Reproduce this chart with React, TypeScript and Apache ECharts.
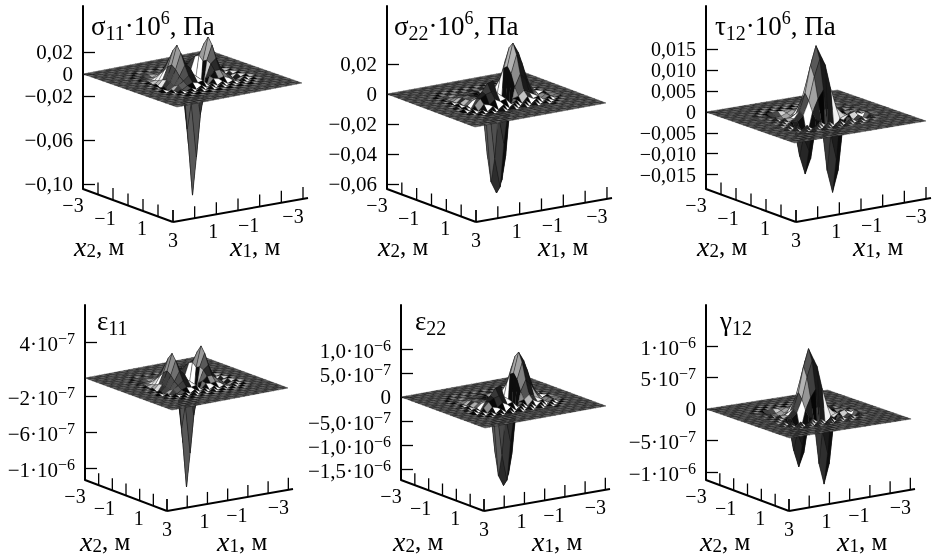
import React, { useEffect, useRef } from "react";
import * as echarts from "echarts";

// Height tables. Rows: x2 nodes, columns: x1 nodes of the central zone.
const shape11 = [
  [0,0,0,0.3,0,0.3,0,0.3,0,0.3,0,0.3,0,0.3,0,0,0],
  [0,0,0.4,-0.4,0.4,-0.4,0.4,-0.4,0.4,-0.4,0.4,-0.4,0.4,-0.4,0.4,0,0],
  [0,0.4,-0.5,-1,-0.5,-1,-0.5,-1,-0.5,-1,-0.5,-1,-0.5,-1,-0.5,0.4,0],
  [0.3,-0.4,-1,-2,-2,0,1,0,-1,0,1,0,-2,-2,-1,-0.4,0.3],
  [0,0.4,-1,-2,0,4,6,3,-3,3,6,4,0,-2,-1,0.4,0],
  [0.4,-0.4,-2,-1,4,10,12,6,-6,6,12,10,4,-1,-2,-0.4,0.4],
  [0,0.5,-3,0,8,18,16,2,-22,2,16,18,8,0,-3,0.5,0],
  [0.5,-1,-3,2,13,27,18,-15,-62,-15,18,28,13,2,-3,-1,0.5],
  [0,1,-4,3,16,33,14,-45,-106,-45,14,35,16,3,-4,1,0],
  [1,-1,-3,2,13,27,16,-20,-70,-20,16,29,13,2,-3,-1,1],
  [0,1,-3,0,8,17,14,2,-30,2,14,18,8,0,-3,1,0],
  [1,-1,-3,2,5,9,9,5,-10,5,9,9,5,2,-3,-1,1],
  [-1,1,-2,-1,2,4,3,4,-1,4,3,4,2,-1,-2,1,-1],
  [0.5,-1,1,-1,1,-1,2,-1,2,-1,2,-1,1,-1,1,-1,0.5],
  [-0.4,0.5,-1,1,-1,2,-1,2,-1,2,-1,1,-1,1,-1,0.5,-0.4],
  [0.3,-0.4,0.5,-0.5,0.5,-0.5,0.5,-0.5,0.5,-0.5,0.5,-0.5,0.5,-0.5,0.5,-0.4,0],
  [0,0.3,-0.3,0.3,-0.3,0.3,-0.3,0.3,-0.3,0.3,-0.3,0.3,-0.3,0.3,-0.3,0,0],
];
const shape22 = [
  [0,0,0,0.2,0,0.2,0,0.2,0,0.2,0,0.2,0,0.2,0,0,0],
  [0,0,0.3,-0.3,0.3,-0.3,0.3,-0.3,0.3,-0.3,0.3,-0.3,0.3,-0.3,0.3,0,0],
  [0,0.3,-0.5,-0.5,-0.5,-0.5,-0.5,-0.5,-0.5,-0.5,-0.5,-0.5,-0.5,-0.5,-0.5,0.3,0],
  [0.3,-0.4,-1,-1,0,0,1,1,0,1,1,1,0,-1,-1,-0.4,0.3],
  [0,0.4,-1,0,1,0,1,1,-1,1,2,4,3,1,-1,0.4,0],
  [0.4,-0.4,-1,1,2,1,1,0,-5,-1,5,11,8,4,-1,-0.4,0.4],
  [0,0.5,-1,2,3,2,1,-8,-24,-8,10,22,16,8,1,0.5,0],
  [0.5,-1,0,2,3,2,-2,-38,-55,-38,18,31,24,10,2,-1,0.5],
  [0,1,-1,2,3,3,-8,-55,-63,-55,20,35,28,14,5,1,0],
  [1,-1,0,3,5,7,-3,-38,-58,-38,16,28,22,10,2,-1,1],
  [0,1,-1,5,9,14,15,-8,-28,-10,8,16,12,5,0,1,0],
  [1,-1,2,6,8,9,8,5,-8,2,3,6,4,2,-1,1,-1],
  [-1,1,-1,3,2,5,3,4,0,2,-1,3,1,2,-1,1,-1],
  [0.5,-1,1,-1,2,-1,2,-1,2,-1,2,-1,2,-1,1,-1,0.5],
  [-0.4,0.5,-1,1,-1,2,-1,2,-1,2,-1,2,-1,1,-1,0.5,0],
  [0.3,-0.4,0.5,-0.5,0.5,-0.5,0.5,-0.5,0.5,-0.5,0.5,-0.5,0.5,-0.5,0.5,0,0],
  [0,0,0.3,-0.3,0.3,-0.3,0.3,-0.3,0.3,-0.3,0.3,-0.3,0.3,0,0,0,0],
];
const shape12 = [
  [0,0,0,1,-1,1,-1,1,-1,1,-1,1,-1,1,0,0,0],
  [0,0,1,-1,1,-1,1,-1,1,-1,1,-1,1,-1,1,0,0],
  [0,1,-1,1,-1,1,-1,1,-1,1,-1,1,-1,1,-1,1,0],
  [0,-1,1,-6,-10,-8,-3,3,2,3,2,-3,-6,-4,1,-1,0],
  [1,-1,1,-10,-18,-16,-6,3,8,6,3,-3,-4,-3,1,-1,1],
  [-1,1,-1,-6,-14,-14,0,14,28,18,8,3,2,1,-1,1,-1],
  [1,-1,2,-3,-5,2,20,45,75,55,25,8,3,2,2,-1,1],
  [-1,1,-2,3,2,10,40,85,135,105,55,15,4,2,-2,1,-1],
  [1,-1,2,-3,3,20,60,125,170,140,75,25,6,3,2,-1,1],
  [-1,2,-3,3,0,12,45,100,140,125,65,18,3,-4,-3,2,-1],
  [1,-2,3,-20,-70,-35,20,50,70,-60,-40,-5,0,6,3,-2,1],
  [-2,3,-5,-75,-120,-85,6,-4,-120,-175,-125,-6,6,10,-22,6,-2],
  [2,-4,5,-25,-60,-25,5,-5,-30,-90,-35,5,-5,5,-10,3,-2],
  [-2,3,-4,5,-5,5,-5,5,-5,5,-5,5,-4,4,-3,2,-1],
  [1,-2,3,-4,5,-5,5,-5,5,-5,5,-4,4,-3,2,-1,0],
  [-1,1,-2,2,-2,2,-2,2,-2,2,-2,2,-2,1,-1,1,0],
  [0,-1,1,-1,1,-1,1,-1,1,-1,1,-1,1,-1,0,0,0],
];

const ticks11 = [0.02, 0, -0.02, -0.06, -0.1];
const labels11 = ["0,02", "0", "−0,02", "−0,06", "−0,10"];
const ticks22 = [0.02, 0, -0.02, -0.04, -0.06];
const labels22 = ["0,02", "0", "−0,02", "−0,04", "−0,06"];
const ticks12 = [0.015, 0.01, 0.005, 0, -0.005, -0.01, -0.015];
const labels12 = ["0,015", "0,010", "0,005", "0", "−0,005", "−0,010", "−0,015"];
const ticksE11 = [4e-7, -2e-7, -6e-7, -1e-6];
const labelsE11 = ["{n|4·10}{p|−7}", "{n|−2·10}{p|−7}", "{n|−6·10}{p|−7}", "{n|−1·10}{p|−6}"];
const ticksE22 = [1e-6, 5e-7, 0, -5e-7, -1e-6, -1.5e-6];
const labelsE22 = ["{n|1,0·10}{p|−6}", "{n|5,0·10}{p|−7}", "0", "{n|−5,0·10}{p|−7}", "{n|−1,0·10}{p|−6}", "{n|−1,5·10}{p|−6}"];
const ticksG12 = [1e-6, 5e-7, 0, -5e-7, -1e-6];
const labelsG12 = ["{n|1·10}{p|−6}", "{n|5·10}{p|−7}", "0", "{n|−5·10}{p|−7}", "{n|−1·10}{p|−6}"];

const floorTicks = [-3, -2, -1, 0, 1, 2, 3];
const floorLabelsX2 = [-3, -1, 1, 3];
const floorLabelsX1 = [1, -1, -3];

const SERIF = "Liberation Serif";
const NODES = 24;
const ZONE_START = 4;

const panels = [
  { title: "{g|σ}{s|11}{g|·10}{p|6}{g|, Па}", tx: 91, ty: 9, shape: shape11, unit: 1e-3, ticks: ticks11, labels: labels11,
    axisX: 83, top: 6, bottom: 189, zeroY: 74, perValue: 1100, nx: [74, 230], fs: 21,
    L: [83, 74], F: [177, 107], R: [302, 83], fF: [173, 222], fR: [308, 198] },
  { title: "{g|σ}{s|22}{g|·10}{p|6}{g|, Па}", tx: 394, ty: 9, shape: shape22, unit: 1e-3, ticks: ticks22, labels: labels22,
    axisX: 387, top: 6, bottom: 189, zeroY: 94, perValue: 1500, nx: [378, 538], fs: 21,
    L: [387, 94], F: [475, 127], R: [606, 103], fF: [476, 222], fR: [612, 198] },
  { title: "{g|τ}{s|12}{g|·10}{p|6}{g|, Па}", tx: 715, ty: 9, shape: shape12, unit: 1e-4, ticks: ticks12, labels: labels12,
    axisX: 706, top: 6, bottom: 189, zeroY: 112, perValue: 4167, nx: [697, 853], fs: 20,
    L: [706, 112], F: [795, 143], R: [927, 121], fF: [796, 222], fR: [931, 198] },
  { title: "{g|ε}{s|11}", tx: 97, ty: 304, shape: shape11, unit: 1.09e-8, ticks: ticksE11, labels: labelsE11,
    axisX: 85, top: 305, bottom: 480, zeroY: 378, perValue: 9e7, nx: [80, 217], fs: 21,
    L: [85, 378], F: [172, 410], R: [288, 388], fF: [167, 511], fR: [293, 489] },
  { title: "{g|ε}{s|22}", tx: 415, ty: 304, shape: shape22, unit: 2.78e-8, ticks: ticksE22, labels: labelsE22,
    axisX: 401, top: 305, bottom: 480, zeroY: 397, perValue: 4.8e7, nx: [393, 532], fs: 21,
    L: [401, 397], F: [485, 428], R: [606, 406], fF: [484, 511], fR: [610, 489] },
  { title: "{g|γ}{s|12}", tx: 720, ty: 304, shape: shape12, unit: 6.1e-9, ticks: ticksG12, labels: labelsG12,
    axisX: 706, top: 305, bottom: 480, zeroY: 409, perValue: 6.3e7, nx: [700, 837], fs: 21,
    L: [706, 409], F: [790, 438], R: [912, 419], fF: [789, 511], fR: [915, 489] },
];

const base = { fontFamily: SERIF, color: "#000", fontWeight: "normal" };
const titleRich = {
  g: { ...base, fontSize: 27, lineHeight: 34 },
  s: { ...base, fontSize: 20, verticalAlign: "bottom", lineHeight: 28 },
  p: { ...base, fontSize: 18, verticalAlign: "top", lineHeight: 28 },
};
const nameRich = {
  i: { ...base, fontSize: 28, fontStyle: "italic", lineHeight: 28 },
  s: { ...base, fontSize: 19, verticalAlign: "bottom", lineHeight: 26 },
  g: { ...base, fontSize: 25, lineHeight: 28 },
};

function grey(s: number) {
  const v = Math.round(255 * Math.max(0.02, Math.min(1, s)));
  return `rgb(${v},${v},${v})`;
}

function buildOption() {
  const grid: any[] = [], xAxis: any[] = [], yAxis: any[] = [], series: any[] = [], title: any[] = [];
  panels.forEach((p, k) => {
    const w = 230;
    const height = (i: number, j: number) => {
      const row = p.shape[i - ZONE_START];
      const v = row ? row[j - ZONE_START] : 0;
      return (v || 0) * p.unit;
    };
    grid.push({ left: p.axisX, top: p.top, width: w, height: p.bottom - p.top });
    xAxis.push({ type: "value", gridIndex: k, show: false, min: 0, max: w });
    yAxis.push({
      type: "value", gridIndex: k,
      min: (p.zeroY - p.bottom) / p.perValue, max: (p.zeroY - p.top) / p.perValue,
      axisLine: { show: true, lineStyle: { color: "#000", width: 2 } },
      axisTick: { show: true, inside: true, length: 12, customValues: p.ticks, lineStyle: { color: "#000", width: 1.3 } },
      splitLine: { show: false },
      axisLabel: {
        show: true, margin: 10, customValues: p.ticks, hideOverlap: false, showMinLabel: true, showMaxLabel: true,
        fontFamily: SERIF, fontSize: p.fs, lineHeight: 20, color: "#000",
        formatter: (v: number) => {
          let best = 0;
          p.ticks.forEach((t, n) => { if (Math.abs(t - v) < Math.abs(p.ticks[best] - v)) best = n; });
          return p.labels[best];
        },
        rich: {
          n: { fontFamily: SERIF, fontSize: p.fs, color: "#000", verticalAlign: "bottom", lineHeight: 24 },
          p: { fontFamily: SERIF, fontSize: 16, color: "#000", verticalAlign: "top" },
        },
      },
    });
    title.push({ text: p.title, left: p.tx, top: p.ty, padding: 0, textStyle: { fontWeight: "normal", rich: titleRich } });
    const nameY = k < 3 ? 232 : 527;
    title.push({ text: "{i|x}{s|2}{g|, м}", left: p.nx[0], top: nameY, padding: 0, textStyle: { fontWeight: "normal", rich: nameRich } });
    title.push({ text: "{i|x}{s|1}{g|, м}", left: p.nx[1], top: nameY, padding: 0, textStyle: { fontWeight: "normal", rich: nameRich } });

    const floorData: any[] = [[2, 0], [3, 0]];
    floorTicks.forEach((t) => { floorData.push([0, t]); floorData.push([1, t]); });
    floorLabelsX2.forEach((t) => floorData.push([4, t]));
    floorLabelsX1.forEach((t) => floorData.push([5, t]));
    const offX2: Record<number, number[]> = { [-3]: [-10, 16], [-1]: [-8, 18], [1]: [-1, 17], [3]: [0, 18] };
    const offX1: Record<number, number[]> = { [1]: [-3, 17], [-1]: [-11, 18], [-3]: [-10, 17] };
    const text = (t: number) => (t < 0 ? "−" + Math.abs(t) : String(t));
    series.push({
      type: "custom", xAxisIndex: k, yAxisIndex: k, silent: true, clip: false, z: 3,
      data: floorData,
      renderItem: (_: any, api: any) => {
        const kind = api.value(0), t = api.value(1);
        const c = api.coord([0, (p.zeroY - p.bottom) / p.perValue]);
        const dx2 = p.fF[0] - c[0], dy2 = p.fF[1] - c[1];
        const dx1 = p.fR[0] - p.fF[0], dy1 = p.fR[1] - p.fF[1];
        const on2 = (v: number) => [c[0] + (dx2 * (v + 3)) / 6, c[1] + (dy2 * (v + 3)) / 6];
        const on1 = (v: number) => [p.fF[0] + (dx1 * 0.963 * (3 - v)) / 6, p.fF[1] + (dy1 * 0.963 * (3 - v)) / 6];
        const line = (a: number[], b: number[], width: number) => ({
          type: "line", shape: { x1: a[0], y1: a[1], x2: b[0], y2: b[1] }, style: { stroke: "#000", lineWidth: width },
        });
        if (kind === 2) return line(c, p.fF, 2);
        if (kind === 3) return line(p.fF, p.fR, 2);
        if (kind === 0 || kind === 1) {
          const q = kind === 0 ? on2(t) : on1(t);
          return line(q, [q[0], q[1] - 12], 1.3);
        }
        const q = kind === 4 ? on2(t) : on1(t);
        const o = kind === 4 ? offX2[t] : offX1[t];
        return {
          type: "text",
          style: { text: text(t), x: q[0] + o[0], y: q[1] + o[1], fill: "#000", align: "center", verticalAlign: "middle", font: `20px "${SERIF}"` },
        };
      },
    });

    const cells: number[][] = [];
    for (let i = 0; i < NODES; i++) for (let j = 0; j < NODES; j++) cells.push([i, j]);
    cells.sort((a, b) => a[0] - a[1] - (b[0] - b[1]));
    const Ux = (p.F[0] - p.L[0]) / NODES, Uy = (p.F[1] - p.L[1]) / NODES;
    const Vx = (p.R[0] - p.F[0]) / NODES, Vy = (p.R[1] - p.F[1]) / NODES;
    series.push({
      type: "custom", xAxisIndex: k, yAxisIndex: k, silent: true, clip: false, z: 4,
      data: cells,
      renderItem: (_: any, api: any) => {
        const i = api.value(0), j = api.value(1);
        const node = (a: number, b: number) => {
          const q = api.coord([p.L[0] - p.axisX + a * Ux + b * Vx, height(a, b)]);
          return [q[0], q[1] + a * Uy + b * Vy];
        };
        const px = (a: number, b: number) => height(a, b) * p.perValue;
        const h00 = px(i, j), h10 = px(i + 1, j), h11 = px(i + 1, j + 1), h01 = px(i, j + 1);
        const dzj = (h01 + h11 - h00 - h10) / 2;
        const twist = h00 + h11 - h10 - h01;
        const avg = (h00 + h10 + h11 + h01) / 4;
        let s: number;
        if (avg < -8) {
          s = 0.05 + Math.max(0, Math.min(0.3, -dzj * 0.006));
        } else if (avg > 8) {
          s = 0.1 + Math.max(0, Math.min(0.6, dzj * 0.03));
          if (dzj > 0 && j % 2) s *= 0.55;
        } else {
          s = 0.33 + dzj * 0.03 + Math.max(-0.25, Math.min(0.62, twist * 0.14)) + ((i + j) % 2 ? 0.07 : -0.07);
        }
        return {
          type: "polygon",
          shape: { points: [node(i, j), node(i + 1, j), node(i + 1, j + 1), node(i, j + 1)] },
          style: { fill: grey(s), stroke: "#111", lineWidth: 0.35 },
        };
      },
    });
  });
  return { animation: false, backgroundColor: "#fff", title, grid, xAxis, yAxis, series };
}

export default function App() {
  const ref = useRef<HTMLDivElement>(null);
  useEffect(() => {
    const chart = echarts.init(ref.current!, undefined, { renderer: "svg" });
    chart.setOption(buildOption() as any);
    return () => chart.dispose();
  }, []);
  return <div ref={ref} style={{ position: "fixed", left: 0, top: 0, width: 935, height: 558, filter: "blur(0.35px)" }} />;
}
